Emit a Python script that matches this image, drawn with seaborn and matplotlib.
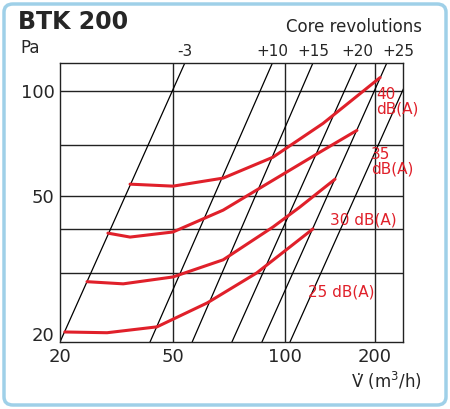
import numpy as np
import pandas as pd
import matplotlib
matplotlib.use("Agg")
import matplotlib.pyplot as plt
import seaborn as sns
from matplotlib.patches import FancyBboxPatch

sns.set_style("white")
plt.rcParams['font.family'] = ['DejaVu Sans']

# red noise curves
c40_x = [35.3, 50, 68.2, 92.8, 134, 208]
c40_y = [53.9, 53.2, 56.1, 64.4, 80.5, 109]
c35_x = [29.5, 35.3, 50, 68.2, 92.8, 134, 174]
c35_y = [39.0, 38.0, 39.3, 45.4, 55.3, 67.4, 76.9]
c30_x = [24.9, 33.4, 50, 68.2, 92.8, 112, 147]
c30_y = [28.3, 27.9, 29.2, 32.7, 40.6, 46.3, 55.7]
c25_x = [20.8, 29.3, 43.9, 61.8, 84.0, 124]
c25_y = [20.3, 20.2, 21.0, 24.6, 30.0, 40.1]
curve_names = ["40", "35", "30", "25"]

# core revolution lines: x at bottom (y=19) and x at top (y=120)
rev_bottom = [20, 41.5, 56.3, 72, 86.7, 103.9]
rev_top = [53.8, 92.5, 124, 174, 219, 272]
rev_labels = ["-3", "+10", "+15", "+20", "+25", None]

xticks = [20, 50, 100, 200]
yticks = [20, 50, 100]
hgrid = [30, 40, 50, 70, 100]
vgrid = [50, 100, 200]
YMIN, YMAX = 19, 120
XMIN, XMAX = 20, 248

anc_l = np.log10([20, 50, 100, 200, 248])
anc_p = np.array([0, 113, 225, 315, 343], float)
S0 = (anc_p[1]-anc_p[0])/(anc_l[1]-anc_l[0])
S1 = (anc_p[-1]-anc_p[-2])/(anc_l[-1]-anc_l[-2])
def fwd(x):
    x = np.asarray(x, float)
    lx = np.log10(np.clip(x, 1e-9, None))
    return np.where(lx < anc_l[0], anc_p[0]+(lx-anc_l[0])*S0,
           np.where(lx > anc_l[-1], anc_p[-1]+(lx-anc_l[-1])*S1,
                    np.interp(lx, anc_l, anc_p)))
def inv(p):
    p = np.asarray(p, float)
    lx = np.where(p < anc_p[0], anc_l[0]+(p-anc_p[0])/S0,
         np.where(p > anc_p[-1], anc_l[-1]+(p-anc_p[-1])/S1,
                  np.interp(p, anc_p, anc_l)))
    return 10**lx

W, H = 450, 409
fig = plt.figure(figsize=(4.5, 4.09), dpi=100)
fig.patch.set_facecolor("white")
fig.patches.append(FancyBboxPatch((4/W, 4/H), 442/W, 401/H,
                   boxstyle="round,pad=0,rounding_size=0.02",
                   transform=fig.transFigure, fill=False,
                   edgecolor="#9fd0e8", linewidth=2.5))
ax = fig.add_axes([60/W, 1-342/H, 343/W, 279/H])
ax.set_xscale("function", functions=(fwd, inv))
ax.set_yscale("log")
ax.set_xlim(XMIN, XMAX)
ax.set_ylim(YMIN, YMAX)

for y in hgrid:
    ax.axhline(y, color="#222", lw=1.0, zorder=1)
for x in vgrid:
    ax.axvline(x, color="#222", lw=1.0, zorder=1)

for i, (xb, xt, lab) in enumerate(zip(rev_bottom, rev_top, rev_labels)):
    ax.plot([xb, xt], [YMIN, YMAX], color="black", lw=0.9, zorder=2)
    if lab:
        dx = 8 if lab == "+25" else 0
        ax.annotate(lab, (xt, YMAX), xytext=(dx, 3), textcoords="offset points",
                    ha="center", va="bottom", fontsize=11, annotation_clip=False)

red = "#e0202a"
for xs, ys, n in zip([c40_x, c35_x, c30_x, c25_x], [c40_y, c35_y, c30_y, c25_y], curve_names):
    df = pd.DataFrame({"x": xs, "y": ys})
    sns.lineplot(data=df, x="x", y="y", ax=ax, color=red, lw=2.2, zorder=3)

ax.set_xlabel("")
ax.set_ylabel("")
ax.set_xticks(xticks)
ax.set_xticklabels([str(t) for t in xticks], fontsize=13)
ax.set_yticks(yticks)
ax.set_yticklabels([str(t) for t in yticks], fontsize=13)
ax.yaxis.set_minor_locator(matplotlib.ticker.NullLocator())
ax.xaxis.set_minor_locator(matplotlib.ticker.NullLocator())
ax.tick_params(length=0, pad=4)
for s in ax.spines.values():
    s.set_color("#222"); s.set_linewidth(1.0)

def ft(px, py, s, **kw):
    fig.text(px/W, 1-py/H, s, **kw)

ft(18, 22, "BTK 200", fontsize=17, fontweight="bold", va="center", ha="left")
ft(20, 48, "Pa", fontsize=12, va="center")
ft(422, 27, "Core revolutions", fontsize=12, va="center", ha="right")
ft(422, 381, "V\u0307 (m$^3$/h)", fontsize=12, va="center", ha="right")
ft(376, 102, "40\ndB(A)", fontsize=11, color=red, va="center", ha="left", linespacing=1.0)
ft(371, 162, "35\ndB(A)", fontsize=11, color=red, va="center", ha="left", linespacing=1.0)
ft(330, 220, "30 dB(A)", fontsize=11, color=red, va="center", ha="left")
ft(308, 292, "25 dB(A)", fontsize=11, color=red, va="center", ha="left")

fig.savefig("out.png", dpi=100)
